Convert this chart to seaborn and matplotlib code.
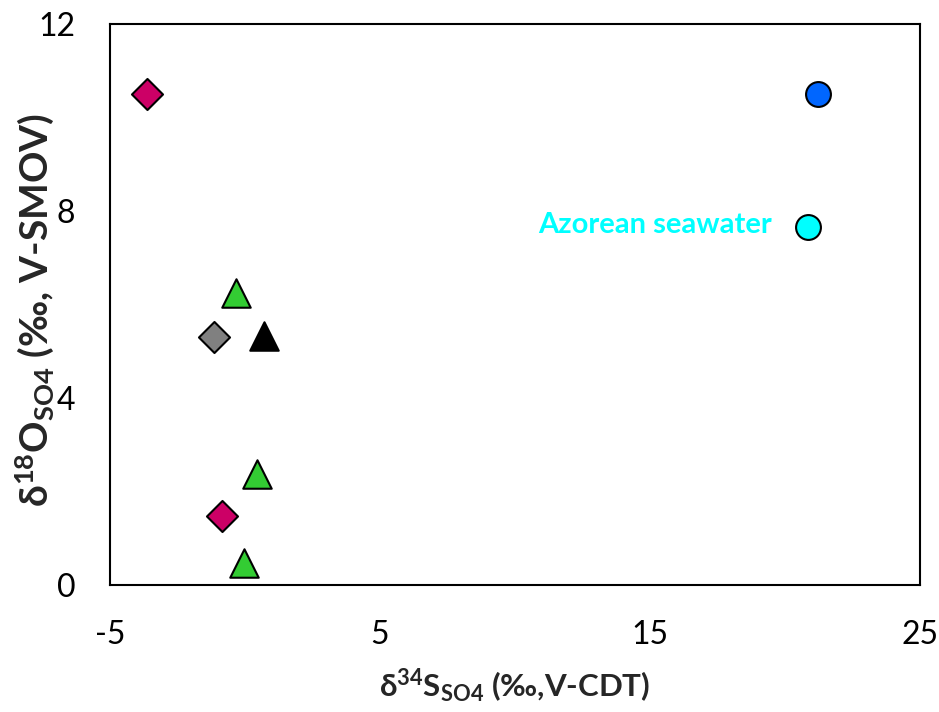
import numpy as np
import pandas as pd
import seaborn as sns
import matplotlib
matplotlib.use("Agg")
import matplotlib.pyplot as plt

# sample groups
groups = ["diamond_m", "tri_g", "diamond_g", "tri_k", "tri_g", "diamond_m", "tri_g", "circ_b", "circ_c"]
d34s = [-3.62, -0.32, -1.15, 0.72, 0.44, -0.85, -0.04, 21.22, 20.85]
d18o = [10.5, 6.25, 5.3, 5.33, 2.38, 1.48, 0.48, 10.5, 7.66]

colors = {"diamond_m": "#CC0066", "tri_g": "#33CC33", "diamond_g": "#808080",
          "tri_k": "#000000", "circ_b": "#0066FF", "circ_c": "#00FFFF"}
markers = {"diamond_m": "D", "tri_g": "^", "diamond_g": "D",
           "tri_k": "^", "circ_b": "o", "circ_c": "o"}
sizes = {"D": 250, "^": 420, "o": 320}

xticks = [-5, 5, 15, 25]
yticks = [0, 4, 8, 12]

df = pd.DataFrame({"g": groups, "x": d34s, "y": d18o})

sns.set_style("white")
plt.rcParams['font.family'] = ['Lato', 'DejaVu Sans']
plt.rcParams['axes.unicode_minus'] = False
plt.rcParams['mathtext.fontset'] = 'custom'
plt.rcParams['mathtext.rm'] = 'Lato:bold'
plt.rcParams['mathtext.bf'] = 'Lato:bold'
plt.rcParams['mathtext.it'] = 'Lato:bold'

fig = plt.figure(figsize=(9.39, 7.12), dpi=100)
ax = fig.add_axes([0.117, 0.178, 0.863, 0.788])

for g in ["diamond_m", "diamond_g", "tri_g", "tri_k", "circ_b", "circ_c"]:
    sub = df[df.g == g]
    m = markers[g]
    sns.scatterplot(data=sub, x="x", y="y", ax=ax, marker=m, s=sizes[m],
                    color=colors[g], edgecolor="black", linewidth=1.5,
                    legend=False, zorder=3, clip_on=False)

ax.text(19.5, 7.7, "Azorean seawater", color="#00FFFF", fontsize=21,
        fontweight="bold", ha="right", va="center")

ax.set_xlim(-5, 25)
ax.set_ylim(0, 12)
ax.set_xticks(xticks)
ax.set_yticks(yticks)
ax.tick_params(direction="in", length=10, width=1, labelsize=23,
               colors="black")
ax.tick_params(axis="x", pad=25)
ax.tick_params(axis="y", pad=25)
for s in ax.spines.values():
    s.set_color("black")
    s.set_linewidth(1.5)

ax.set_xlabel(r"δ$^{34}$S$_{SO4}$ (‰,V-CDT)", fontsize=22.5, fontweight="bold", labelpad=12)
ax.set_ylabel(r"δ$^{18}$O$_{SO4}$ (‰, V-SMOV)", fontsize=28, fontweight="bold")
ax.yaxis.set_label_coords(-0.066, 0.49)

fig.savefig("out.png", dpi=100)
